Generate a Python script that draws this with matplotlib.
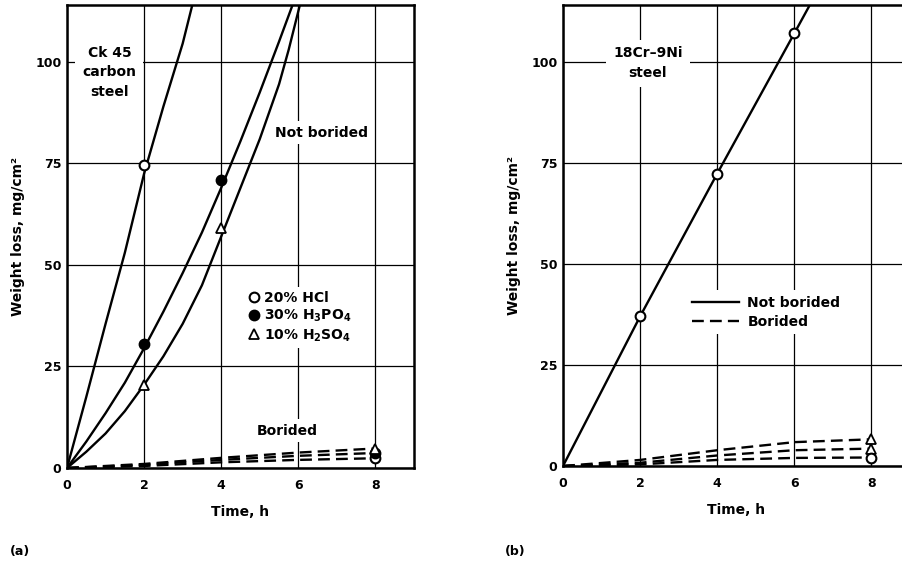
import matplotlib
matplotlib.use("Agg")
import matplotlib.pyplot as plt
from matplotlib.lines import Line2D

plt.rcParams['font.family'] = ['DejaVu Sans']
plt.rcParams['font.weight'] = 'bold'
plt.rcParams['mathtext.fontset'] = 'custom'
plt.rcParams['mathtext.rm'] = 'DejaVu Sans:bold'
plt.rcParams['mathtext.it'] = 'DejaVu Sans:bold'
plt.rcParams['mathtext.bf'] = 'DejaVu Sans:bold'
plt.rcParams['mathtext.default'] = 'rm'

# ---------------- Data: panel (a) Ck 45 carbon steel ----------------
a_hcl_t = [0, 0.5, 1, 1.5, 2, 2.5, 3, 3.25]
a_hcl_w = [0, 17.5, 35.5, 53, 72.5, 89, 104.5, 114]
a_hcl_mt = [2]
a_hcl_mw = [74.5]

a_h3po4_t = [0, 0.5, 1, 1.5, 2, 2.5, 3, 3.5, 4, 4.5, 5, 5.5, 5.85]
a_h3po4_w = [0, 6.5, 13.5, 21, 29.5, 38.5, 48, 58, 69, 80.5, 92.5, 105, 114]
a_h3po4_mt = [2, 4]
a_h3po4_mw = [30.5, 70.9]

a_h2so4_t = [0, 0.5, 1, 1.5, 2, 2.5, 3, 3.5, 4, 4.5, 5, 5.5, 5.75, 6.04]
a_h2so4_w = [0, 4, 8.5, 14, 20.5, 27.5, 35.5, 45, 57, 69, 81, 94.5, 103, 114]
a_h2so4_mt = [2, 4]
a_h2so4_mw = [20.5, 59]

bor_t = [0, 2, 4, 6, 8]
a_bor_hcl = [0, 0.5, 1.4, 2.0, 2.4]
a_bor_h3po4 = [0, 0.8, 2.0, 3.0, 3.7]
a_bor_h2so4 = [0, 1.0, 2.5, 3.8, 4.8]

# ---------------- Data: panel (b) 18Cr-9Ni steel ----------------
b_not_t = [0, 2, 4, 6, 6.43]
b_not_w = [0, 37, 72.3, 107, 114.5]
b_not_mt = [2, 4, 6]
b_not_mw = [37, 72.3, 107]

b_bor_top = [0, 1.5, 3.9, 5.9, 6.6]
b_bor_mid = [0, 0.8, 2.6, 3.9, 4.3]
b_bor_low = [0, 0.4, 1.5, 2.0, 2.1]

x_ticks = [0, 2, 4, 6, 8]
y_ticks = [0, 25, 50, 75, 100]
legend_a = ['20% HCl', '30% H$_3$PO$_4$', '10% H$_2$SO$_4$']
legend_b = ['Not borided', 'Borided']

W, H = 902, 564
fig = plt.figure(figsize=(W / 100, H / 100), dpi=100)
axw = 347 / W
ax1 = fig.add_axes([67 / W, (H - 468) / H, axw, (468 - 5) / H])
ax2 = fig.add_axes([563 / W, (H - 466) / H, axw, (466 - 5) / H])

LW = 1.7
MS = 7
dash = (5, 2.6)


def style(ax):
    ax.set_xlim(0, 9)
    ax.set_ylim(0, 114)
    ax.set_xticks(x_ticks)
    ax.set_yticks(y_ticks)
    ax.grid(True, color='black', lw=0.9, zorder=0)
    ax.set_axisbelow(True)
    for s in ax.spines.values():
        s.set_linewidth(1.8)
    ax.tick_params(axis='both', length=0, labelsize=9)
    ax.tick_params(axis='x', pad=8)
    ax.tick_params(axis='y', pad=4)
    for lab in ax.get_xticklabels() + ax.get_yticklabels():
        lab.set_fontweight('bold')
    ax.set_xlabel('Time, h', fontsize=10, fontweight='bold', labelpad=9)
    ax.set_ylabel('Weight loss, mg/cm²', fontsize=10, fontweight='bold', labelpad=7.5)


style(ax1)
style(ax2)

bbox = dict(facecolor='white', edgecolor='none', pad=3)

# ---- panel (a) ----
ax1.plot(a_hcl_t, a_hcl_w, color='black', lw=LW, zorder=3)
ax1.plot(a_h3po4_t, a_h3po4_w, color='black', lw=LW, zorder=3)
ax1.plot(a_h2so4_t, a_h2so4_w, color='black', lw=LW, zorder=3)
ax1.plot(a_hcl_mt, a_hcl_mw, 'o', ms=MS, mfc='white', mec='black', mew=1.5, zorder=4)
ax1.plot(a_h3po4_mt, a_h3po4_mw, 'o', ms=MS, mfc='black', mec='black', mew=1.5, zorder=4)
ax1.plot(a_h2so4_mt, a_h2so4_mw, '^', ms=MS, mfc='white', mec='black', mew=1.3, zorder=4)

for ys in (a_bor_hcl, a_bor_h3po4, a_bor_h2so4):
    ax1.plot(bor_t, ys, color='black', lw=LW, dashes=dash, zorder=3)
ax1.plot([8], [a_bor_hcl[-1]], 'o', ms=MS, mfc='white', mec='black', mew=1.5, zorder=4, clip_on=False)
ax1.plot([8], [a_bor_h3po4[-1]], 'o', ms=MS, mfc='black', mec='black', mew=1.5, zorder=4, clip_on=False)
ax1.plot([8], [a_bor_h2so4[-1]], '^', ms=MS, mfc='white', mec='black', mew=1.3, zorder=4, clip_on=False)

ax1.text(1.1, 97.4, 'Ck 45\ncarbon\nsteel', ha='center', va='center', fontsize=10,
         fontweight='bold', linespacing=1.5,
         bbox=dict(facecolor='white', edgecolor='none', pad=5), zorder=2)
ax1.text(6.6, 82.6, 'Not borided', ha='center', va='center', fontsize=10,
         fontweight='bold', bbox=bbox, zorder=2)
ax1.text(5.7, 9.2, 'Borided', ha='center', va='center', fontsize=10,
         fontweight='bold', bbox=bbox, zorder=2)

handles_a = [
    Line2D([], [], ls='none', marker='o', ms=MS, mfc='white', mec='black', mew=1.5),
    Line2D([], [], ls='none', marker='o', ms=MS, mfc='black', mec='black', mew=1.5),
    Line2D([], [], ls='none', marker='^', ms=MS, mfc='white', mec='black', mew=1.3),
]
leg = ax1.legend(handles_a, legend_a, loc='upper left', bbox_to_anchor=(0.495, 0.407),
                 frameon=True, fancybox=False, framealpha=1, facecolor='white', edgecolor='none',
                 handlelength=0.6, handletextpad=0.4, labelspacing=0.22,
                 borderpad=0.3, prop={'weight': 'bold', 'size': 10})
leg.set_zorder(5)

# ---- panel (b) ----
ax2.plot(b_not_t, b_not_w, color='black', lw=LW, zorder=3)
ax2.plot(b_not_mt, b_not_mw, 'o', ms=MS, mfc='white', mec='black', mew=1.5, zorder=4)
for ys in (b_bor_top, b_bor_mid, b_bor_low):
    ax2.plot(bor_t, ys, color='black', lw=LW, dashes=dash, zorder=3)
ax2.plot([8], [b_bor_top[-1]], '^', ms=MS, mfc='white', mec='black', mew=1.3, zorder=4, clip_on=False)
ax2.plot([8], [b_bor_mid[-1]], '^', ms=MS, mfc='white', mec='black', mew=1.3, zorder=4, clip_on=False)
ax2.plot([8], [b_bor_low[-1]], 'o', ms=MS, mfc='white', mec='black', mew=1.5, zorder=4, clip_on=False)

ax2.text(2.2, 99.6, '18Cr–9Ni\nsteel', ha='center', va='center', fontsize=10,
         fontweight='bold', linespacing=1.5,
         bbox=dict(facecolor='white', edgecolor='none', pad=5), zorder=2)

handles_b = [
    Line2D([], [], color='black', lw=LW),
    Line2D([], [], color='black', lw=LW, dashes=dash),
]
leg2 = ax2.legend(handles_b, legend_b, loc='upper left', bbox_to_anchor=(0.335, 0.396),
                  frameon=True, fancybox=False, framealpha=1, facecolor='white', edgecolor='none',
                  handlelength=3.4, handletextpad=0.6, labelspacing=0.35, borderpad=0.4,
                  prop={'weight': 'bold', 'size': 10})
leg2.set_zorder(5)

fig.text(20 / W, 1 - 552 / H, '(a)', ha='center', va='center', fontsize=9, fontweight='bold')
fig.text(515 / W, 1 - 552 / H, '(b)', ha='center', va='center', fontsize=9, fontweight='bold')

fig.savefig('out.png', dpi=100)
